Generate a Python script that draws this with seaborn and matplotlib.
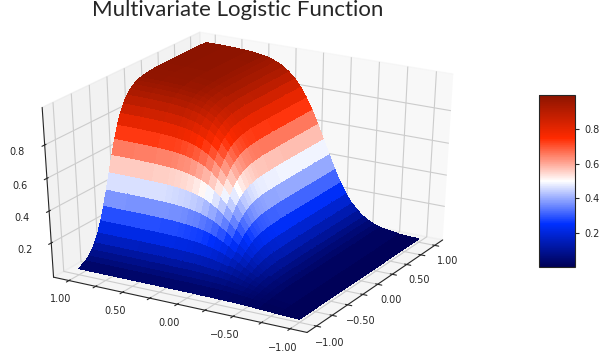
# Multivariate logistic surface
import matplotlib
matplotlib.use("Agg")
import matplotlib.pyplot as plt
import seaborn as sns
import numpy as np

sns.set_style("white")
plt.rcParams['font.family'] = ['DejaVu Sans']

# ── Data ─────────────────────────────────────────────
x_values = [-1.0, -.90, -.85, -.80, -.75, -.70, -.65, -.60, -.55, -.50, -.45, -.40, -.35,
            -.30, -.25, -.20, -.15, -.10, -.05, 0.0, .10, .20, .35, .55, .75, 1.0]
y_values = [-1.0, -.82, -.6425, -.5875, -.5325, -.4775, -.4225, -.3675, -.3125, -.2575, -.2025, -.1475, -.0925,
            -.0375, .0175, .0725, .1275, .1825, .2375, .2925, .3475, .4025, .4575, .60, .80, 1.0]
z_values = [
    [.002,.006,.012,.014,.016,.017,.018,.019,.019,.020,.020,.020,.021,.021,.021,.021,.021,.021,.021,.021,.021,.021,.021,.021,.021,.021],
    [.003,.008,.018,.022,.026,.030,.033,.036,.038,.040,.041,.042,.043,.043,.044,.044,.044,.044,.044,.044,.045,.045,.045,.045,.045,.045],
    [.003,.008,.020,.026,.032,.037,.043,.048,.052,.055,.058,.060,.061,.062,.063,.063,.064,.064,.064,.064,.064,.064,.064,.065,.065,.065],
    [.003,.008,.023,.029,.037,.045,.054,.061,.068,.074,.079,.083,.085,.087,.089,.090,.091,.091,.091,.092,.092,.092,.092,.092,.092,.092],
    [.003,.009,.024,.032,.042,.053,.065,.076,.087,.097,.105,.112,.117,.121,.124,.126,.127,.128,.129,.130,.130,.130,.130,.131,.131,.131],
    [.003,.009,.026,.035,.046,.060,.075,.091,.108,.123,.136,.148,.157,.164,.169,.172,.175,.177,.179,.180,.180,.181,.181,.182,.182,.182],
    [.003,.009,.027,.037,.050,.065,.084,.105,.128,.150,.170,.188,.203,.214,.223,.230,.235,.238,.241,.243,.244,.245,.246,.246,.247,.247],
    [.003,.009,.027,.038,.052,.070,.092,.118,.146,.176,.204,.231,.253,.272,.287,.298,.306,.312,.316,.319,.322,.323,.324,.326,.326,.327],
    [.003,.009,.028,.039,.054,.073,.098,.128,.162,.199,.236,.272,.304,.332,.354,.371,.384,.393,.400,.405,.408,.411,.413,.415,.416,.417],
    [.003,.009,.028,.040,.055,.076,.102,.135,.175,.218,.265,.311,.353,.390,.421,.445,.464,.478,.489,.496,.501,.505,.508,.511,.513,.513],
    [.003,.009,.029,.040,.056,.078,.106,.141,.185,.234,.288,.344,.396,.443,.483,.516,.541,.560,.574,.584,.592,.597,.601,.606,.609,.609],
    [.003,.009,.029,.041,.057,.079,.108,.146,.192,.246,.307,.370,.431,.488,.537,.577,.609,.634,.652,.665,.675,.681,.686,.693,.696,.697],
    [.003,.009,.029,.041,.057,.080,.110,.149,.197,.255,.320,.391,.459,.524,.581,.628,.666,.695,.717,.733,.745,.753,.759,.767,.771,.772],
    [.003,.009,.029,.041,.058,.080,.111,.151,.201,.261,.330,.405,.480,.551,.615,.668,.711,.745,.770,.788,.802,.811,.818,.828,.832,.834],
    [.003,.009,.029,.041,.058,.081,.112,.152,.203,.265,.337,.415,.495,.571,.640,.698,.745,.782,.810,.830,.845,.855,.864,.874,.879,.880],
    [.003,.009,.029,.041,.058,.081,.112,.153,.205,.269,.342,.424,.506,.586,.658,.720,.770,.810,.840,.861,.878,.889,.898,.909,.915,.916],
    [.003,.009,.029,.041,.058,.081,.113,.154,.207,.271,.346,.429,.514,.596,.671,.735,.788,.829,.861,.883,.901,.912,.922,.934,.939,.941],
    [.003,.009,.029,.041,.058,.081,.113,.154,.207,.272,.348,.433,.519,.603,.680,.746,.801,.843,.876,.899,.917,.929,.939,.951,.957,.959],
    [.003,.009,.029,.041,.058,.082,.113,.155,.208,.273,.350,.435,.523,.608,.687,.754,.810,.853,.887,.911,.929,.942,.951,.964,.970,.972],
    [.003,.009,.029,.041,.058,.082,.113,.155,.208,.274,.351,.437,.525,.612,.691,.759,.816,.860,.894,.918,.937,.950,.960,.973,.979,.981],
    [.003,.009,.029,.041,.058,.082,.114,.155,.209,.275,.352,.438,.527,.615,.696,.765,.823,.868,.903,.927,.946,.958,.968,.982,.988,.990],
    [.003,.009,.029,.041,.058,.082,.114,.155,.209,.275,.353,.439,.529,.617,.698,.768,.827,.872,.906,.931,.950,.963,.973,.987,.994,.995],
    [.003,.009,.029,.041,.058,.082,.114,.155,.209,.275,.353,.440,.530,.618,.700,.770,.828,.873,.908,.933,.953,.966,.976,.990,.996,.998],
    [.003,.009,.029,.041,.058,.082,.114,.155,.209,.275,.353,.440,.530,.619,.700,.770,.828,.873,.909,.934,.954,.967,.977,.991,.997,.999],
    [.003,.009,.029,.041,.058,.082,.114,.155,.209,.275,.353,.441,.530,.619,.700,.770,.829,.874,.909,.935,.954,.967,.978,.991,.998,.999],
    [.003,.009,.029,.041,.058,.082,.114,.155,.209,.275,.353,.441,.530,.619,.700,.770,.829,.874,.909,.935,.954,.967,.978,.991,.998,.999],
]
xy_ticks = [-1.0, -0.75, -0.5, -0.25, 0.0, 0.25, 0.5, 0.75, 1.0]
xy_labels = ["\u22121.00", "", "\u22120.50", "", "0.00", "", "0.50", "", "1.00"]
z_ticks = [0.2, 0.4, 0.6, 0.8]
cmap_colors = ["#000055", "#0030ff", "#ffffff", "#ff2a00", "#8c1400"]

X, Y = np.meshgrid(x_values, y_values, indexing="ij")
Z = np.array(z_values)

fig = plt.figure(figsize=(6.15, 3.55), dpi=100)
ax = fig.add_axes([-0.002, 0.0315, 0.80, 0.917], projection="3d")
ax.apply_aspect = lambda position=None: None  # let the box stretch with the axes
ax.set_box_aspect((1, 1, 1))
ax.view_init(elev=30, azim=-150)

surf = ax.plot_surface(X, Y, Z, cmap=sns.blend_palette(cmap_colors, n_colors=256, as_cmap=True),
                       vmin=0, vmax=1, rstride=1, cstride=1, linewidth=0, antialiased=False)

ax.set_xticks(xy_ticks)
ax.set_xticklabels(xy_labels)
ax.set_yticks(xy_ticks)
ax.set_yticklabels(xy_labels)
ax.set_zticks(z_ticks)
ax.tick_params(labelsize=7, pad=2)
ax.tick_params(axis="x", pad=0)
ax.tick_params(axis="y", pad=0)
ax.grid(True)

cax = fig.add_axes([539 / 615, 1 - 267 / 355, 36 / 615, 172 / 355])
cbar = fig.colorbar(surf, cax=cax)
cbar.set_ticks(z_ticks)
cbar.ax.tick_params(labelsize=7, length=3)

fig.text(238 / 615, 1 - 10 / 355, "Multivariate Logistic Function", ha="center", va="center",
         fontsize=16, family="Lato")

fig.savefig("out.png", dpi=100)
